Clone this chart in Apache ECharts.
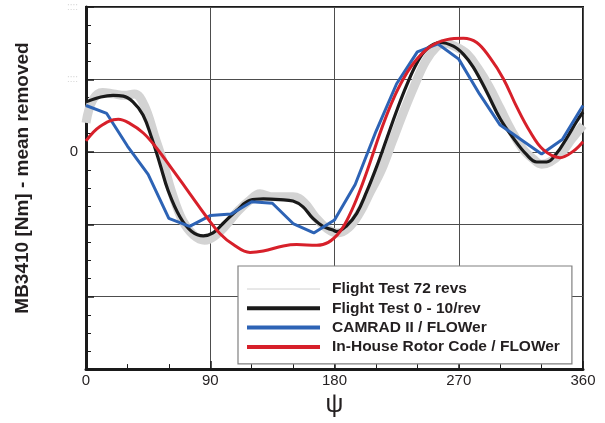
<!DOCTYPE html>
<html>
<head>
<meta charset="utf-8">
<script src="https://cdn.jsdelivr.net/npm/echarts@6/dist/echarts.min.js"></script>
<style>html,body{margin:0;padding:0;background:#fff}#c{width:605px;height:423px}</style>
</head>
<body>
<div id="c"></div>
<script>
// Flight Test 72 revs (band)
const grayPsi = [0,5,12,20,28,35,42,50,56,62,70,78,86,94,102,110,118,126,134,142,150,158,166,174,182,190,198,206,214,222,230,238,246,254,260,268,276,284,292,300,308,316,324,330,336,344,352,360];
const grayVal = [0.40,0.72,0.82,0.80,0.78,0.80,0.65,0.20,-0.15,-0.55,-0.95,-1.15,-1.22,-1.15,-1.00,-0.82,-0.68,-0.58,-0.62,-0.62,-0.62,-0.70,-0.90,-1.05,-1.12,-1.05,-0.85,-0.55,-0.25,0.15,0.55,0.92,1.25,1.45,1.50,1.45,1.35,1.15,0.90,0.60,0.30,0.05,-0.10,-0.17,-0.14,-0.02,0.18,0.37];
// Flight Test 0 - 10/rev
const blackPsi = [0,19.6,27,34,41.3,47.6,53.6,59.4,68.1,76.6,85,92,99.2,109.2,118.8,128.4,140.5,149.9,157.2,164.4,171.7,178.9,181.6,188.8,196.1,203.3,210.6,217.8,225.1,232.3,239.5,246.8,256.4,266.1,273.3,280.5,290.2,299.9,309.5,319.2,326.5,333.7,340.9,348.2,355.4,360];
const blackVal = [0.69,0.78,0.77,0.69,0.51,0.19,-0.17,-0.53,-0.90,-1.10,-1.16,-1.12,-0.99,-0.81,-0.67,-0.65,-0.66,-0.68,-0.76,-0.92,-1.03,-1.08,-1.10,-1.02,-0.85,-0.55,-0.20,0.18,0.57,0.92,1.22,1.42,1.51,1.46,1.35,1.17,0.83,0.46,0.19,-0.04,-0.14,-0.14,-0.02,0.19,0.42,0.55];
// CAMRAD II / FLOWer
const bluePsi = [0,15,30,45,60,75,90,105,120,135,150,165,180,195,210,225,240,255,270,285,300,315,330,345,360];
const blueVal = [0.64,0.53,0.08,-0.31,-0.92,-1.03,-0.88,-0.86,-0.69,-0.71,-0.99,-1.12,-0.94,-0.45,0.28,0.94,1.38,1.49,1.28,0.80,0.37,0.17,-0.03,0.17,0.64];
// In-House Rotor Code / FLOWer
const redPsi = [0,10.1,23.4,31.9,41.5,51.2,63.2,75.3,87.4,97.1,106.7,118.8,128.4,142.9,152.6,167.1,175.5,184,191.2,198.5,205.7,213,220.2,227.4,237.1,249.2,261.3,273.3,283,292.6,302.3,312,321.6,331.2,343.3,353,360];
const redVal = [0.15,0.35,0.45,0.39,0.26,0.05,-0.26,-0.58,-0.90,-1.13,-1.28,-1.39,-1.37,-1.30,-1.28,-1.29,-1.25,-1.10,-0.86,-0.53,-0.15,0.26,0.62,0.92,1.22,1.45,1.55,1.57,1.51,1.30,1.01,0.62,0.28,0.03,-0.08,0.01,0.14];

const seriesNames = ['Flight Test 72 revs','Flight Test 0 - 10/rev','CAMRAD II / FLOWer','In-House Rotor Code / FLOWer'];
const xTicks = [0,90,180,270,360];

const pairs = (a,b) => a.map((v,i)=>[v,b[i]]);
const chart = echarts.init(document.getElementById('c'), null, {renderer:'canvas'});
const font = 'Liberation Sans, Arial, Helvetica, sans-serif';
chart.setOption({
  animation:false,
  backgroundColor:'#fff',
  grid:{left:86,right:22,top:7,bottom:48,show:true,borderColor:'#1a1a1a',borderWidth:2,backgroundColor:'transparent'},
  xAxis:{type:'value',min:0,max:360,interval:90,
    name:'ψ',nameLocation:'middle',nameGap:19,
    nameTextStyle:{fontSize:25,color:'#231f20',fontFamily:font},
    axisLine:{show:true,onZero:false,lineStyle:{color:'#1a1a1a',width:3}},
    axisTick:{show:true,inside:true,length:8,lineStyle:{color:'#1a1a1a',width:1.5}},
    minorTick:{show:true,splitNumber:3,length:5,lineStyle:{color:'#1a1a1a',width:1}},
    splitLine:{show:true,lineStyle:{color:'#4d4d4d',width:1}},
    axisLabel:{margin:4,fontSize:15,color:'#231f20',fontFamily:font,
      formatter:v=>xTicks.includes(v)?String(v):''}
  },
  yAxis:{type:'value',min:-3,max:2,interval:1,
    axisLine:{show:true,onZero:false,lineStyle:{color:'#1a1a1a',width:3}},
    axisTick:{show:true,inside:true,length:8,lineStyle:{color:'#1a1a1a',width:1.5}},
    minorTick:{show:true,splitNumber:4,length:5,lineStyle:{color:'#1a1a1a',width:1}},
    splitLine:{show:true,lineStyle:{color:'#4d4d4d',width:1}},
    axisLabel:{margin:8,fontSize:15,color:'#231f20',fontFamily:font,
      formatter:v=> v===0?'0':(v>0?'{d|::::}':''),
      rich:{d:{color:'#d6d6d6',fontSize:10,fontFamily:font}}}
  },
  legend:{orient:'vertical',left:238,top:266,
    padding:[15,12,9,7],itemGap:3.3,itemWidth:73,itemHeight:14,
    backgroundColor:'#fff',borderColor:'#808080',borderWidth:1.2,borderRadius:0,
    itemStyle:{opacity:0},
    textStyle:{fontSize:15.5,fontWeight:'bold',color:'#231f20',fontFamily:font,lineHeight:14,padding:[0,0,0,7]},
    data:[
      {name:seriesNames[0],lineStyle:{width:1,color:'#d0d0d0'}},
      {name:seriesNames[1],lineStyle:{width:4}},
      {name:seriesNames[2],lineStyle:{width:4}},
      {name:seriesNames[3],lineStyle:{width:4}}
    ]
  },
  series:[
    {name:seriesNames[0],type:'line',data:pairs(grayPsi,grayVal),smooth:0.4,showSymbol:false,symbol:'none',
      lineStyle:{color:'#d3d3d3',width:9},itemStyle:{color:'#d3d3d3'}},
    {name:seriesNames[1],type:'line',data:pairs(blackPsi,blackVal),smooth:0.4,showSymbol:false,symbol:'none',
      lineStyle:{color:'#1a1a1a',width:3.2},itemStyle:{color:'#1a1a1a'}},
    {name:seriesNames[2],type:'line',data:pairs(bluePsi,blueVal),smooth:false,showSymbol:false,symbol:'none',
      lineStyle:{color:'#2d63b5',width:3},itemStyle:{color:'#2d63b5'}},
    {name:seriesNames[3],type:'line',data:pairs(redPsi,redVal),smooth:0.4,showSymbol:false,symbol:'none',
      lineStyle:{color:'#d7202a',width:3},itemStyle:{color:'#d7202a'}}
  ],
  graphic:[
    {type:'text',x:23,y:178,rotation:Math.PI/2,
      style:{text:'MB3410 [Nm] - mean removed',font:'bold 19px '+font,fill:'#231f20',textAlign:'center',textVerticalAlign:'middle'}}
  ]
});
</script>
</body>
</html>
